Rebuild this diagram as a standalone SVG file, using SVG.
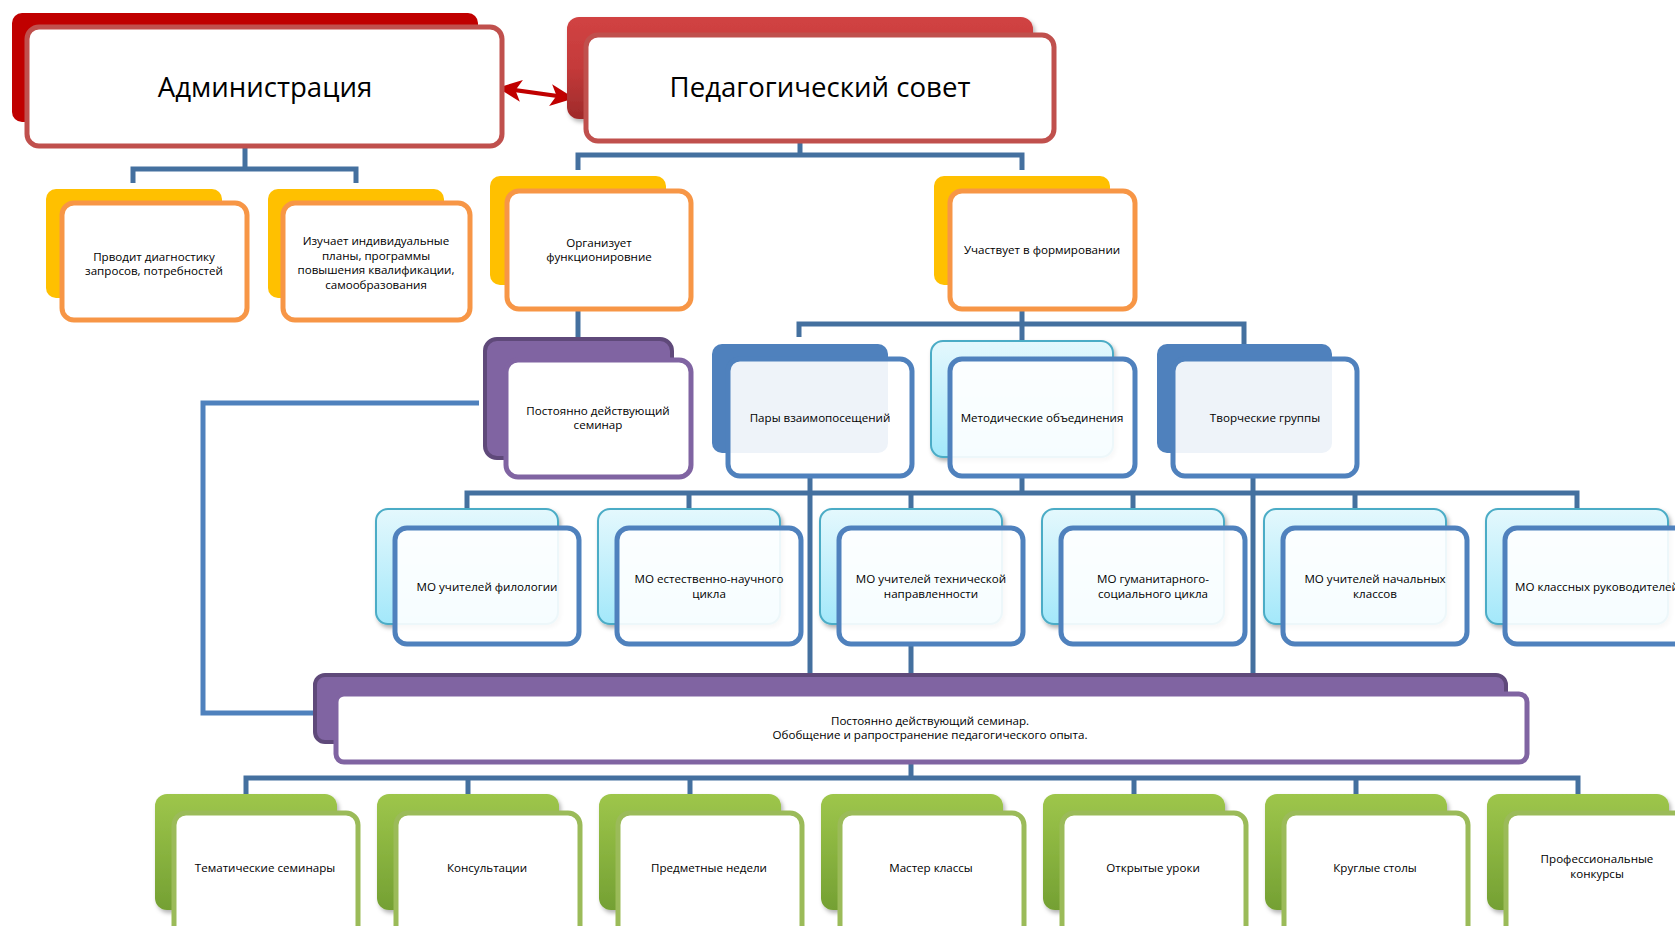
<svg xmlns="http://www.w3.org/2000/svg" width="1675" height="926" viewBox="0 0 1675 926">
<defs>
<linearGradient id="gRed" x1="0" y1="0" x2="0" y2="1"><stop offset="0" stop-color="#D14343"/><stop offset="0.5" stop-color="#C43A3A"/><stop offset="1" stop-color="#9E2A2A"/></linearGradient>
<linearGradient id="gCyan" x1="0" y1="0" x2="0" y2="1"><stop offset="0" stop-color="#E4F8FD"/><stop offset="1" stop-color="#A3E8FA"/></linearGradient>
<linearGradient id="gGreen" x1="0" y1="0" x2="0" y2="1"><stop offset="0" stop-color="#9EC64B"/><stop offset="1" stop-color="#74A033"/></linearGradient>
<filter id="sh" x="-10%" y="-10%" width="130%" height="130%"><feDropShadow dx="2" dy="3" stdDeviation="2" flood-color="#000" flood-opacity="0.3"/></filter>
<marker id="ah" viewBox="0 0 10 10" refX="9" refY="5" markerWidth="6" markerHeight="5.5" orient="auto-start-reverse" markerUnits="strokeWidth" preserveAspectRatio="none"><path d="M0,0 L10,5 L0,10 L2.5,5 z" fill="#C00000"/></marker>
</defs>
<style>
text{font-family:"Open Sans","Noto Sans","Liberation Sans",sans-serif;fill:#000;text-anchor:middle}
.big{font-size:27.6px}
.sm{font-size:11.6px}
.conn{fill:none;stroke:#44709F;stroke-width:5}
.loop{fill:none;stroke:#4F81BD;stroke-width:5}
.bRedD{fill:#C00000}
.bRed{fill:url(#gRed);filter:url(#sh)}
.fRed{fill:#fff;stroke:#C0504D;stroke-width:5}
.bYel{fill:#FFC000}
.fOr{fill:#fff;stroke:#F79646;stroke-width:5}
.bPur{fill:#8064A2;stroke:#5F497A;stroke-width:4}
.fPur{fill:#fff;stroke:#8064A2;stroke-width:5}
.bBlue{fill:#4F81BD}
.bCyan{fill:url(#gCyan);stroke:#4BACC6;stroke-width:2;filter:url(#sh)}
.fBlue{fill:#fff;fill-opacity:0.9;stroke:#4F81BD;stroke-width:5}
.bGreen{fill:url(#gGreen);filter:url(#sh)}
.fGreen{fill:#fff;stroke:#9BBB59;stroke-width:5}
</style>
<rect width="1675" height="926" fill="#fff"/>

<g id="connectors">
<path class="conn" d="M245 146 V169 M133 183 V169 H356 V183"/>
<path class="conn" d="M800 141 V155 M578 170 V155 H1022 V170"/>
<path class="conn" d="M578 309 V339"/>
<path class="conn" d="M1022 309 V341 M799 337 V324 H1244 V344"/>
<path class="conn" d="M1022 476 V493 M467 509 V493 H1577 V509 M689 493 V509 M911 493 V509 M1133 493 V509 M1355 493 V509"/>
<path class="conn" d="M810 476 V676 M911 644 V676 M1253 476 V681"/>
<path class="loop" d="M479 403 H203 V713 H313"/>
<path class="conn" d="M911 762 V778 M246 794 V778 H1578 V794 M468 778 V794 M690 778 V794 M1134 778 V794 M1356 778 V794"/>
<line x1="500" y1="88" x2="572" y2="98" stroke="#C00000" stroke-width="4" marker-start="url(#ah)" marker-end="url(#ah)"/>
</g>

<g id="admin">
<rect class="bRedD" x="12" y="13" width="466" height="109" rx="10"/>
<rect class="fRed" x="27" y="27" width="475" height="119" rx="12"/>
<text class="big" x="265" y="97">Администрация</text>
</g>
<g id="pedsovet">
<rect class="bRed" x="567" y="17" width="466" height="102" rx="12"/>
<rect class="fRed" x="586" y="35" width="468" height="106" rx="12"/>
<text class="big" x="820" y="97">Педагогический совет</text>
</g>

<g id="diag">
<rect class="bYel" x="46" y="189" width="176" height="109" rx="10"/>
<rect class="fOr" x="62" y="203" width="185" height="117" rx="12"/>
<text class="sm" x="154" y="261">Прводит диагностику</text>
<text class="sm" x="154" y="274.5">запросов, потребностей</text>
</g>
<g id="plans">
<rect class="bYel" x="268" y="189" width="176" height="109" rx="10"/>
<rect class="fOr" x="283" y="203" width="187" height="117" rx="12"/>
<text class="sm" x="376" y="245">Изучает индивидуальные</text>
<text class="sm" x="376" y="259.5">планы, программы</text>
<text class="sm" x="376" y="274">повышения квалификации,</text>
<text class="sm" x="376" y="288.5">самообразования</text>
</g>
<g id="organize">
<rect class="bYel" x="490" y="176" width="176" height="109" rx="10"/>
<rect class="fOr" x="507" y="191" width="184" height="118" rx="12"/>
<text class="sm" x="599" y="247">Организует</text>
<text class="sm" x="599" y="261">функционировние</text>
</g>
<g id="participate">
<rect class="bYel" x="934" y="176" width="176" height="109" rx="10"/>
<rect class="fOr" x="950" y="191" width="185" height="118" rx="12"/>
<text class="sm" x="1042" y="254">Участвует в формировании</text>
</g>

<g id="seminar1">
<rect class="bPur" x="485" y="339" width="187" height="119" rx="12"/>
<rect class="fPur" x="506" y="360" width="185" height="117" rx="12"/>
<text class="sm" x="598" y="415">Постоянно действующий</text>
<text class="sm" x="598" y="429">семинар</text>
</g>
<g id="pairs">
<rect class="bBlue" x="712" y="344" width="176" height="109" rx="10"/>
<rect class="fBlue" x="728" y="359" width="184" height="117" rx="12"/>
<text class="sm" x="820" y="422">Пары взаимопосещений</text>
</g>
<g id="metod">
<rect class="bCyan" x="931" y="341" width="182" height="116" rx="12"/>
<rect class="fBlue" x="950" y="359" width="185" height="117" rx="12"/>
<text class="sm" x="1042" y="422">Методические объединения</text>
</g>
<g id="creative">
<rect class="bBlue" x="1157" y="344" width="175" height="109" rx="10"/>
<rect class="fBlue" x="1173" y="359" width="184" height="117" rx="12"/>
<text class="sm" x="1265" y="422">Творческие группы</text>
</g>

<g id="mo1">
<rect class="bCyan" x="376" y="509" width="182" height="115" rx="12"/>
<rect class="fBlue" x="395" y="528" width="184" height="116" rx="12"/>
<text class="sm" x="487" y="591">МО учителей филологии</text>
</g>
<g id="mo2">
<rect class="bCyan" x="598" y="509" width="182" height="115" rx="12"/>
<rect class="fBlue" x="617" y="528" width="184" height="116" rx="12"/>
<text class="sm" x="709" y="583">МО естественно-научного</text>
<text class="sm" x="709" y="598">цикла</text>
</g>
<g id="mo3">
<rect class="bCyan" x="820" y="509" width="182" height="115" rx="12"/>
<rect class="fBlue" x="839" y="528" width="184" height="116" rx="12"/>
<text class="sm" x="931" y="583">МО учителей технической</text>
<text class="sm" x="931" y="598">направленности</text>
</g>
<g id="mo4">
<rect class="bCyan" x="1042" y="509" width="182" height="115" rx="12"/>
<rect class="fBlue" x="1061" y="528" width="184" height="116" rx="12"/>
<text class="sm" x="1153" y="583">МО гуманитарного-</text>
<text class="sm" x="1153" y="598">социального цикла</text>
</g>
<g id="mo5">
<rect class="bCyan" x="1264" y="509" width="182" height="115" rx="12"/>
<rect class="fBlue" x="1283" y="528" width="184" height="116" rx="12"/>
<text class="sm" x="1375" y="583">МО учителей начальных</text>
<text class="sm" x="1375" y="598">классов</text>
</g>
<g id="mo6">
<rect class="bCyan" x="1486" y="509" width="182" height="115" rx="12"/>
<rect class="fBlue" x="1505" y="528" width="184" height="116" rx="12"/>
<text class="sm" x="1597" y="591">МО классных руководителей</text>
</g>

<g id="seminar2">
<rect class="bPur" x="315" y="675" width="1191" height="67" rx="10"/>
<rect class="fPur" x="336" y="694" width="1191" height="68" rx="8"/>
<text class="sm" x="930" y="725">Постоянно действующий семинар.</text>
<text class="sm" x="930" y="739">Обобщение и рапространение педагогического опыта.</text>
</g>

<g id="g1"><rect class="bGreen" x="155" y="794" width="182" height="116" rx="12"/><rect class="fGreen" x="174" y="813" width="184" height="130" rx="12"/><text class="sm" x="265" y="872">Тематические семинары</text></g>
<g id="g2"><rect class="bGreen" x="377" y="794" width="182" height="116" rx="12"/><rect class="fGreen" x="396" y="813" width="184" height="130" rx="12"/><text class="sm" x="487" y="872">Консультации</text></g>
<g id="g3"><rect class="bGreen" x="599" y="794" width="182" height="116" rx="12"/><rect class="fGreen" x="618" y="813" width="184" height="130" rx="12"/><text class="sm" x="709" y="872">Предметные недели</text></g>
<g id="g4"><rect class="bGreen" x="821" y="794" width="182" height="116" rx="12"/><rect class="fGreen" x="840" y="813" width="184" height="130" rx="12"/><text class="sm" x="931" y="872">Мастер классы</text></g>
<g id="g5"><rect class="bGreen" x="1043" y="794" width="182" height="116" rx="12"/><rect class="fGreen" x="1062" y="813" width="184" height="130" rx="12"/><text class="sm" x="1153" y="872">Открытые уроки</text></g>
<g id="g6"><rect class="bGreen" x="1265" y="794" width="182" height="116" rx="12"/><rect class="fGreen" x="1284" y="813" width="184" height="130" rx="12"/><text class="sm" x="1375" y="872">Круглые столы</text></g>
<g id="g7"><rect class="bGreen" x="1487" y="794" width="182" height="116" rx="12"/><rect class="fGreen" x="1506" y="813" width="184" height="130" rx="12"/><text class="sm" x="1597" y="863">Профессиональные</text><text class="sm" x="1597" y="878">конкурсы</text></g>
</svg>
